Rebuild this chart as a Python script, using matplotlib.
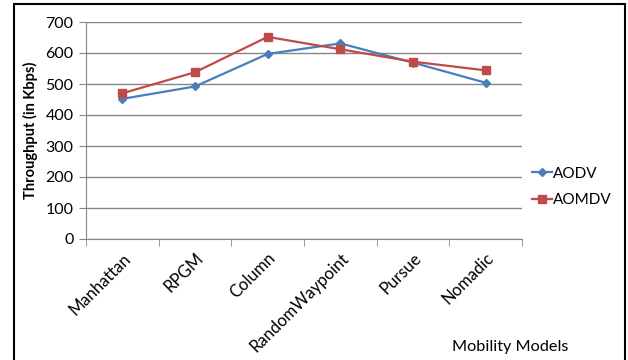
import numpy as np
import matplotlib.pyplot as plt
from matplotlib.patches import Rectangle

models = ['Manhattan', 'RPGM', 'Column', 'RandomWaypoint', 'Pursue', 'Nomadic']
aodv = [452, 492, 597, 631, 569, 504]
aomdv = [470, 538, 652, 612, 572, 544]
yticks = [0, 100, 200, 300, 400, 500, 600, 700]

plt.rcParams['font.family'] = ['Lato', 'DejaVu Sans']

fig = plt.figure(figsize=(6.28, 3.6), dpi=100)
ax = fig.add_axes([86/628, 1 - 239/360, 436/628, 217/360])

x = np.arange(len(models))
ax.plot(x, aodv, color='#4A7EBB', lw=1.6, marker='D', ms=4.5, label='AODV')
ax.plot(x, aomdv, color='#BE4B48', lw=1.6, marker='s', ms=5.5, label='AOMDV')

ax.set_xlim(-0.5, len(models) - 0.5)
ax.set_ylim(0, 700)
ax.set_yticks(yticks)
ax.yaxis.grid(True, color='#868686', lw=1)
ax.set_axisbelow(True)

# category labels at centers, tick marks on the boundaries
ax.set_xticks(x)
ax.set_xticklabels(models, rotation=45, ha='right', rotation_mode='anchor', fontsize=12)
ax.set_xticks(np.arange(len(models) + 1) - 0.5, minor=True)
ax.tick_params(axis='x', which='major', length=0, pad=8)
ax.tick_params(axis='x', which='minor', length=5, color='#868686', direction='out')
ax.tick_params(axis='y', length=5, color='#868686', labelsize=11.5, pad=4)

for s in ['top', 'right']:
    ax.spines[s].set_visible(False)
for s in ['left', 'bottom']:
    ax.spines[s].set_color('#868686')

ax.set_ylabel('Throughput (in Kbps)', fontsize=10.5, fontweight='bold', labelpad=5)
fig.text(510/628, 1 - 347/360, 'Mobility Models', fontsize=11.7, ha='center', va='center')

fig.legend(loc='center left', bbox_to_anchor=(532/628, 1 - 187/360), frameon=False,
           fontsize=11, handlelength=1.3, handletextpad=0.1, labelspacing=0.85,
           borderpad=0, borderaxespad=0)

# chart frame, open at the bottom edge
fig.patches.append(Rectangle((14/628, -0.1), 611/628, 1.1 - 4/360, transform=fig.transFigure,
                             fill=False, ec='black', lw=1.5, clip_on=False))

fig.savefig('out.png', dpi=100)
